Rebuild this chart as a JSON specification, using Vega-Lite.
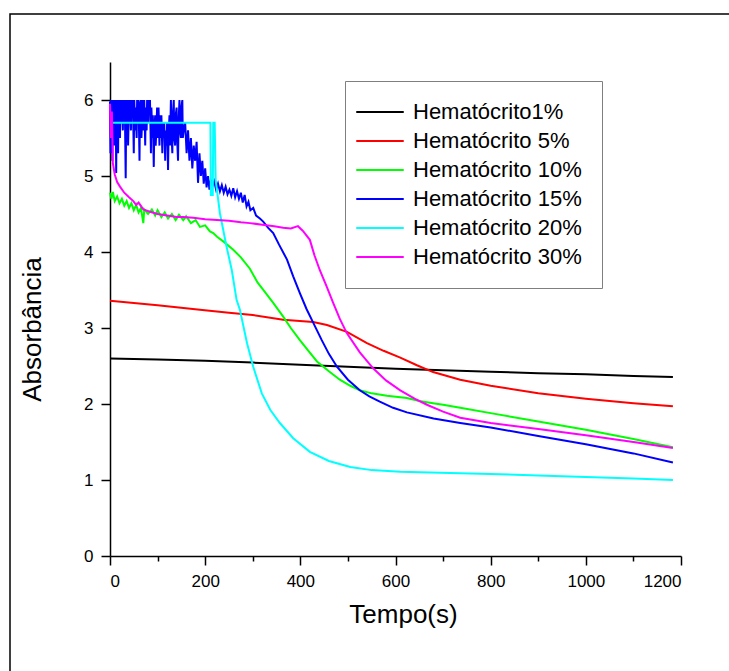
{
  "$schema": "https://vega.github.io/schema/vega-lite/v6.json",
  "autosize": "none",
  "width": 722,
  "height": 662,
  "padding": {"left": 10, "top": 14, "right": 0, "bottom": 0},
  "background": "white",
  "config": {
    "font": "Liberation Sans",
    "view": {"stroke": "black", "strokeWidth": 1.5},
    "axis": {"domainColor": "black", "tickColor": "black", "domainWidth": 1.5, "tickWidth": 1.5, "labelColor": "black", "titleColor": "black", "grid": false, "labelFont": "Liberation Sans", "titleFont": "Liberation Sans", "titleFontWeight": "normal"}
  },
  "datasets": {
    "d": [
      {"s": "Hematócrito1%", "t": 0, "a": 2.60}, {"s": "Hematócrito1%", "t": 100, "a": 2.585}, {"s": "Hematócrito1%", "t": 200, "a": 2.57}, {"s": "Hematócrito1%", "t": 300, "a": 2.545}, {"s": "Hematócrito1%", "t": 400, "a": 2.515}, {"s": "Hematócrito1%", "t": 500, "a": 2.49}, {"s": "Hematócrito1%", "t": 600, "a": 2.465}, {"s": "Hematócrito1%", "t": 700, "a": 2.445}, {"s": "Hematócrito1%", "t": 800, "a": 2.425}, {"s": "Hematócrito1%", "t": 900, "a": 2.405}, {"s": "Hematócrito1%", "t": 1000, "a": 2.39}, {"s": "Hematócrito1%", "t": 1100, "a": 2.37}, {"s": "Hematócrito1%", "t": 1183, "a": 2.355},

      {"s": "Hematócrito 5%", "t": 0, "a": 3.36}, {"s": "Hematócrito 5%", "t": 50, "a": 3.33}, {"s": "Hematócrito 5%", "t": 100, "a": 3.30}, {"s": "Hematócrito 5%", "t": 189, "a": 3.24}, {"s": "Hematócrito 5%", "t": 250, "a": 3.20}, {"s": "Hematócrito 5%", "t": 300, "a": 3.17}, {"s": "Hematócrito 5%", "t": 364, "a": 3.11}, {"s": "Hematócrito 5%", "t": 427, "a": 3.08}, {"s": "Hematócrito 5%", "t": 456, "a": 3.04}, {"s": "Hematócrito 5%", "t": 498, "a": 2.95}, {"s": "Hematócrito 5%", "t": 540, "a": 2.80}, {"s": "Hematócrito 5%", "t": 575, "a": 2.70}, {"s": "Hematócrito 5%", "t": 610, "a": 2.61}, {"s": "Hematócrito 5%", "t": 645, "a": 2.51}, {"s": "Hematócrito 5%", "t": 679, "a": 2.42}, {"s": "Hematócrito 5%", "t": 736, "a": 2.32}, {"s": "Hematócrito 5%", "t": 800, "a": 2.24}, {"s": "Hematócrito 5%", "t": 900, "a": 2.14}, {"s": "Hematócrito 5%", "t": 1000, "a": 2.07}, {"s": "Hematócrito 5%", "t": 1100, "a": 2.01}, {"s": "Hematócrito 5%", "t": 1183, "a": 1.97},

      {"s": "Hematócrito 10%", "t": 0, "a": 4.78}, {"s": "Hematócrito 10%", "t": 3, "a": 4.70}, {"s": "Hematócrito 10%", "t": 6, "a": 4.79}, {"s": "Hematócrito 10%", "t": 10, "a": 4.67}, {"s": "Hematócrito 10%", "t": 15, "a": 4.73}, {"s": "Hematócrito 10%", "t": 20, "a": 4.64}, {"s": "Hematócrito 10%", "t": 25, "a": 4.70}, {"s": "Hematócrito 10%", "t": 30, "a": 4.61}, {"s": "Hematócrito 10%", "t": 35, "a": 4.67}, {"s": "Hematócrito 10%", "t": 40, "a": 4.58}, {"s": "Hematócrito 10%", "t": 45, "a": 4.64}, {"s": "Hematócrito 10%", "t": 50, "a": 4.55}, {"s": "Hematócrito 10%", "t": 55, "a": 4.62}, {"s": "Hematócrito 10%", "t": 60, "a": 4.52}, {"s": "Hematócrito 10%", "t": 65, "a": 4.58}, {"s": "Hematócrito 10%", "t": 70, "a": 4.38}, {"s": "Hematócrito 10%", "t": 72, "a": 4.56}, {"s": "Hematócrito 10%", "t": 80, "a": 4.50}, {"s": "Hematócrito 10%", "t": 88, "a": 4.56}, {"s": "Hematócrito 10%", "t": 95, "a": 4.48}, {"s": "Hematócrito 10%", "t": 100, "a": 4.55}, {"s": "Hematócrito 10%", "t": 108, "a": 4.46}, {"s": "Hematócrito 10%", "t": 115, "a": 4.52}, {"s": "Hematócrito 10%", "t": 122, "a": 4.44}, {"s": "Hematócrito 10%", "t": 130, "a": 4.50}, {"s": "Hematócrito 10%", "t": 138, "a": 4.42}, {"s": "Hematócrito 10%", "t": 145, "a": 4.49}, {"s": "Hematócrito 10%", "t": 154, "a": 4.42}, {"s": "Hematócrito 10%", "t": 160, "a": 4.47}, {"s": "Hematócrito 10%", "t": 170, "a": 4.38}, {"s": "Hematócrito 10%", "t": 180, "a": 4.42}, {"s": "Hematócrito 10%", "t": 189, "a": 4.33}, {"s": "Hematócrito 10%", "t": 200, "a": 4.35}, {"s": "Hematócrito 10%", "t": 210, "a": 4.27}, {"s": "Hematócrito 10%", "t": 217, "a": 4.25}, {"s": "Hematócrito 10%", "t": 225, "a": 4.20}, {"s": "Hematócrito 10%", "t": 240, "a": 4.13}, {"s": "Hematócrito 10%", "t": 259, "a": 4.03}, {"s": "Hematócrito 10%", "t": 275, "a": 3.93}, {"s": "Hematócrito 10%", "t": 294, "a": 3.78}, {"s": "Hematócrito 10%", "t": 310, "a": 3.60}, {"s": "Hematócrito 10%", "t": 325, "a": 3.48}, {"s": "Hematócrito 10%", "t": 343, "a": 3.33}, {"s": "Hematócrito 10%", "t": 364, "a": 3.15}, {"s": "Hematócrito 10%", "t": 380, "a": 3.00}, {"s": "Hematócrito 10%", "t": 399, "a": 2.84}, {"s": "Hematócrito 10%", "t": 417, "a": 2.70}, {"s": "Hematócrito 10%", "t": 435, "a": 2.56}, {"s": "Hematócrito 10%", "t": 460, "a": 2.43}, {"s": "Hematócrito 10%", "t": 483, "a": 2.32}, {"s": "Hematócrito 10%", "t": 505, "a": 2.24}, {"s": "Hematócrito 10%", "t": 525, "a": 2.18}, {"s": "Hematócrito 10%", "t": 550, "a": 2.14}, {"s": "Hematócrito 10%", "t": 582, "a": 2.11}, {"s": "Hematócrito 10%", "t": 624, "a": 2.08}, {"s": "Hematócrito 10%", "t": 650, "a": 2.04}, {"s": "Hematócrito 10%", "t": 679, "a": 2.01}, {"s": "Hematócrito 10%", "t": 700, "a": 1.99}, {"s": "Hematócrito 10%", "t": 736, "a": 1.95}, {"s": "Hematócrito 10%", "t": 800, "a": 1.88}, {"s": "Hematócrito 10%", "t": 900, "a": 1.77}, {"s": "Hematócrito 10%", "t": 1000, "a": 1.66}, {"s": "Hematócrito 10%", "t": 1100, "a": 1.54}, {"s": "Hematócrito 10%", "t": 1183, "a": 1.43},

      {"s": "Hematócrito 15%", "t": 0, "a": 5.98}, {"s": "Hematócrito 15%", "t": 1, "a": 5.3}, {"s": "Hematócrito 15%", "t": 2, "a": 6.0}, {"s": "Hematócrito 15%", "t": 3, "a": 5.5}, {"s": "Hematócrito 15%", "t": 4, "a": 6.0}, {"s": "Hematócrito 15%", "t": 5, "a": 5.2}, {"s": "Hematócrito 15%", "t": 6, "a": 6.0}, {"s": "Hematócrito 15%", "t": 7, "a": 5.7}, {"s": "Hematócrito 15%", "t": 8, "a": 6.0}, {"s": "Hematócrito 15%", "t": 9, "a": 5.4}, {"s": "Hematócrito 15%", "t": 10, "a": 6.0}, {"s": "Hematócrito 15%", "t": 11, "a": 5.6}, {"s": "Hematócrito 15%", "t": 12, "a": 6.0}, {"s": "Hematócrito 15%", "t": 13, "a": 5.04}, {"s": "Hematócrito 15%", "t": 14, "a": 5.9}, {"s": "Hematócrito 15%", "t": 15, "a": 5.5}, {"s": "Hematócrito 15%", "t": 16, "a": 6.0}, {"s": "Hematócrito 15%", "t": 17, "a": 5.3}, {"s": "Hematócrito 15%", "t": 18, "a": 6.0}, {"s": "Hematócrito 15%", "t": 19, "a": 5.6}, {"s": "Hematócrito 15%", "t": 20, "a": 6.0}, {"s": "Hematócrito 15%", "t": 21, "a": 5.5}, {"s": "Hematócrito 15%", "t": 22, "a": 6.0}, {"s": "Hematócrito 15%", "t": 24, "a": 5.7}, {"s": "Hematócrito 15%", "t": 25, "a": 6.0}, {"s": "Hematócrito 15%", "t": 27, "a": 5.6}, {"s": "Hematócrito 15%", "t": 28, "a": 6.0}, {"s": "Hematócrito 15%", "t": 30, "a": 5.8}, {"s": "Hematócrito 15%", "t": 31, "a": 6.0}, {"s": "Hematócrito 15%", "t": 33, "a": 4.97}, {"s": "Hematócrito 15%", "t": 34, "a": 5.8}, {"s": "Hematócrito 15%", "t": 35, "a": 6.0}, {"s": "Hematócrito 15%", "t": 36, "a": 5.5}, {"s": "Hematócrito 15%", "t": 37, "a": 6.0}, {"s": "Hematócrito 15%", "t": 38, "a": 5.4}, {"s": "Hematócrito 15%", "t": 40, "a": 6.0}, {"s": "Hematócrito 15%", "t": 41, "a": 5.7}, {"s": "Hematócrito 15%", "t": 42, "a": 6.0}, {"s": "Hematócrito 15%", "t": 44, "a": 5.6}, {"s": "Hematócrito 15%", "t": 45, "a": 6.0}, {"s": "Hematócrito 15%", "t": 47, "a": 5.8}, {"s": "Hematócrito 15%", "t": 48, "a": 6.0}, {"s": "Hematócrito 15%", "t": 50, "a": 5.3}, {"s": "Hematócrito 15%", "t": 51, "a": 6.0}, {"s": "Hematócrito 15%", "t": 53, "a": 5.6}, {"s": "Hematócrito 15%", "t": 54, "a": 5.9}, {"s": "Hematócrito 15%", "t": 56, "a": 5.5}, {"s": "Hematócrito 15%", "t": 57, "a": 6.0}, {"s": "Hematócrito 15%", "t": 59, "a": 5.7}, {"s": "Hematócrito 15%", "t": 60, "a": 6.0}, {"s": "Hematócrito 15%", "t": 62, "a": 5.2}, {"s": "Hematócrito 15%", "t": 63, "a": 5.9}, {"s": "Hematócrito 15%", "t": 65, "a": 6.0}, {"s": "Hematócrito 15%", "t": 66, "a": 5.5}, {"s": "Hematócrito 15%", "t": 68, "a": 5.8}, {"s": "Hematócrito 15%", "t": 69, "a": 6.0}, {"s": "Hematócrito 15%", "t": 71, "a": 5.6}, {"s": "Hematócrito 15%", "t": 72, "a": 6.0}, {"s": "Hematócrito 15%", "t": 74, "a": 5.4}, {"s": "Hematócrito 15%", "t": 75, "a": 5.9}, {"s": "Hematócrito 15%", "t": 77, "a": 5.6}, {"s": "Hematócrito 15%", "t": 78, "a": 6.0}, {"s": "Hematócrito 15%", "t": 80, "a": 5.7}, {"s": "Hematócrito 15%", "t": 81, "a": 6.0}, {"s": "Hematócrito 15%", "t": 83, "a": 5.8}, {"s": "Hematócrito 15%", "t": 84, "a": 6.0}, {"s": "Hematócrito 15%", "t": 86, "a": 5.3}, {"s": "Hematócrito 15%", "t": 87, "a": 5.9}, {"s": "Hematócrito 15%", "t": 89, "a": 5.5}, {"s": "Hematócrito 15%", "t": 90, "a": 5.8}, {"s": "Hematócrito 15%", "t": 92, "a": 5.12}, {"s": "Hematócrito 15%", "t": 93, "a": 5.6}, {"s": "Hematócrito 15%", "t": 95, "a": 5.8}, {"s": "Hematócrito 15%", "t": 96, "a": 5.4}, {"s": "Hematócrito 15%", "t": 98, "a": 5.7}, {"s": "Hematócrito 15%", "t": 99, "a": 5.9}, {"s": "Hematócrito 15%", "t": 101, "a": 5.5}, {"s": "Hematócrito 15%", "t": 102, "a": 5.9}, {"s": "Hematócrito 15%", "t": 104, "a": 5.4}, {"s": "Hematócrito 15%", "t": 105, "a": 5.8}, {"s": "Hematócrito 15%", "t": 107, "a": 5.5}, {"s": "Hematócrito 15%", "t": 108, "a": 5.8}, {"s": "Hematócrito 15%", "t": 110, "a": 5.3}, {"s": "Hematócrito 15%", "t": 111, "a": 5.7}, {"s": "Hematócrito 15%", "t": 113, "a": 5.5}, {"s": "Hematócrito 15%", "t": 114, "a": 5.7}, {"s": "Hematócrito 15%", "t": 116, "a": 5.2}, {"s": "Hematócrito 15%", "t": 117, "a": 5.6}, {"s": "Hematócrito 15%", "t": 119, "a": 5.4}, {"s": "Hematócrito 15%", "t": 120, "a": 5.7}, {"s": "Hematócrito 15%", "t": 122, "a": 5.08}, {"s": "Hematócrito 15%", "t": 123, "a": 5.5}, {"s": "Hematócrito 15%", "t": 125, "a": 5.8}, {"s": "Hematócrito 15%", "t": 126, "a": 5.4}, {"s": "Hematócrito 15%", "t": 128, "a": 6.0}, {"s": "Hematócrito 15%", "t": 129, "a": 5.6}, {"s": "Hematócrito 15%", "t": 131, "a": 5.3}, {"s": "Hematócrito 15%", "t": 132, "a": 5.8}, {"s": "Hematócrito 15%", "t": 134, "a": 6.0}, {"s": "Hematócrito 15%", "t": 135, "a": 5.5}, {"s": "Hematócrito 15%", "t": 137, "a": 5.4}, {"s": "Hematócrito 15%", "t": 138, "a": 5.8}, {"s": "Hematócrito 15%", "t": 140, "a": 5.9}, {"s": "Hematócrito 15%", "t": 141, "a": 5.5}, {"s": "Hematócrito 15%", "t": 143, "a": 5.2}, {"s": "Hematócrito 15%", "t": 144, "a": 5.7}, {"s": "Hematócrito 15%", "t": 146, "a": 6.0}, {"s": "Hematócrito 15%", "t": 147, "a": 5.6}, {"s": "Hematócrito 15%", "t": 149, "a": 5.5}, {"s": "Hematócrito 15%", "t": 150, "a": 5.9}, {"s": "Hematócrito 15%", "t": 152, "a": 6.0}, {"s": "Hematócrito 15%", "t": 153, "a": 5.5}, {"s": "Hematócrito 15%", "t": 155, "a": 5.6}, {"s": "Hematócrito 15%", "t": 158, "a": 5.7}, {"s": "Hematócrito 15%", "t": 161, "a": 5.3}, {"s": "Hematócrito 15%", "t": 164, "a": 5.6}, {"s": "Hematócrito 15%", "t": 167, "a": 5.2}, {"s": "Hematócrito 15%", "t": 170, "a": 5.5}, {"s": "Hematócrito 15%", "t": 173, "a": 5.1}, {"s": "Hematócrito 15%", "t": 176, "a": 5.4}, {"s": "Hematócrito 15%", "t": 179, "a": 5.2}, {"s": "Hematócrito 15%", "t": 182, "a": 5.45}, {"s": "Hematócrito 15%", "t": 185, "a": 4.91}, {"s": "Hematócrito 15%", "t": 188, "a": 5.3}, {"s": "Hematócrito 15%", "t": 191, "a": 5.0}, {"s": "Hematócrito 15%", "t": 194, "a": 5.2}, {"s": "Hematócrito 15%", "t": 197, "a": 4.9}, {"s": "Hematócrito 15%", "t": 200, "a": 5.1}, {"s": "Hematócrito 15%", "t": 203, "a": 4.85}, {"s": "Hematócrito 15%", "t": 206, "a": 5.0}, {"s": "Hematócrito 15%", "t": 209, "a": 4.82}, {"s": "Hematócrito 15%", "t": 212, "a": 4.95}, {"s": "Hematócrito 15%", "t": 215, "a": 4.86}, {"s": "Hematócrito 15%", "t": 219, "a": 4.93}, {"s": "Hematócrito 15%", "t": 223, "a": 4.82}, {"s": "Hematócrito 15%", "t": 227, "a": 4.9}, {"s": "Hematócrito 15%", "t": 231, "a": 4.8}, {"s": "Hematócrito 15%", "t": 235, "a": 4.88}, {"s": "Hematócrito 15%", "t": 239, "a": 4.78}, {"s": "Hematócrito 15%", "t": 243, "a": 4.86}, {"s": "Hematócrito 15%", "t": 247, "a": 4.76}, {"s": "Hematócrito 15%", "t": 251, "a": 4.82}, {"s": "Hematócrito 15%", "t": 255, "a": 4.74}, {"s": "Hematócrito 15%", "t": 259, "a": 4.84}, {"s": "Hematócrito 15%", "t": 263, "a": 4.72}, {"s": "Hematócrito 15%", "t": 267, "a": 4.80}, {"s": "Hematócrito 15%", "t": 271, "a": 4.70}, {"s": "Hematócrito 15%", "t": 275, "a": 4.78}, {"s": "Hematócrito 15%", "t": 279, "a": 4.65}, {"s": "Hematócrito 15%", "t": 283, "a": 4.75}, {"s": "Hematócrito 15%", "t": 287, "a": 4.60}, {"s": "Hematócrito 15%", "t": 291, "a": 4.66}, {"s": "Hematócrito 15%", "t": 295, "a": 4.55}, {"s": "Hematócrito 15%", "t": 301, "a": 4.58}, {"s": "Hematócrito 15%", "t": 307, "a": 4.48}, {"s": "Hematócrito 15%", "t": 315, "a": 4.44}, {"s": "Hematócrito 15%", "t": 322, "a": 4.40}, {"s": "Hematócrito 15%", "t": 332, "a": 4.32}, {"s": "Hematócrito 15%", "t": 343, "a": 4.25}, {"s": "Hematócrito 15%", "t": 355, "a": 4.10}, {"s": "Hematócrito 15%", "t": 372, "a": 3.90}, {"s": "Hematócrito 15%", "t": 385, "a": 3.68}, {"s": "Hematócrito 15%", "t": 399, "a": 3.46}, {"s": "Hematócrito 15%", "t": 413, "a": 3.25}, {"s": "Hematócrito 15%", "t": 427, "a": 3.07}, {"s": "Hematócrito 15%", "t": 445, "a": 2.84}, {"s": "Hematócrito 15%", "t": 460, "a": 2.66}, {"s": "Hematócrito 15%", "t": 477, "a": 2.49}, {"s": "Hematócrito 15%", "t": 500, "a": 2.32}, {"s": "Hematócrito 15%", "t": 525, "a": 2.18}, {"s": "Hematócrito 15%", "t": 545, "a": 2.10}, {"s": "Hematócrito 15%", "t": 567, "a": 2.03}, {"s": "Hematócrito 15%", "t": 595, "a": 1.95}, {"s": "Hematócrito 15%", "t": 624, "a": 1.89}, {"s": "Hematócrito 15%", "t": 680, "a": 1.81}, {"s": "Hematócrito 15%", "t": 736, "a": 1.75}, {"s": "Hematócrito 15%", "t": 800, "a": 1.69}, {"s": "Hematócrito 15%", "t": 900, "a": 1.58}, {"s": "Hematócrito 15%", "t": 1000, "a": 1.47}, {"s": "Hematócrito 15%", "t": 1100, "a": 1.35}, {"s": "Hematócrito 15%", "t": 1183, "a": 1.23},

      {"s": "Hematócrito 20%", "t": 0, "a": 5.70}, {"s": "Hematócrito 20%", "t": 211, "a": 5.70}, {"s": "Hematócrito 20%", "t": 212, "a": 4.75}, {"s": "Hematócrito 20%", "t": 216, "a": 4.75}, {"s": "Hematócrito 20%", "t": 217, "a": 5.70}, {"s": "Hematócrito 20%", "t": 220, "a": 5.70}, {"s": "Hematócrito 20%", "t": 222, "a": 4.95}, {"s": "Hematócrito 20%", "t": 231, "a": 4.51}, {"s": "Hematócrito 20%", "t": 245, "a": 4.07}, {"s": "Hematócrito 20%", "t": 256, "a": 3.76}, {"s": "Hematócrito 20%", "t": 266, "a": 3.37}, {"s": "Hematócrito 20%", "t": 273, "a": 3.24}, {"s": "Hematócrito 20%", "t": 288, "a": 2.80}, {"s": "Hematócrito 20%", "t": 301, "a": 2.49}, {"s": "Hematócrito 20%", "t": 319, "a": 2.14}, {"s": "Hematócrito 20%", "t": 337, "a": 1.92}, {"s": "Hematócrito 20%", "t": 357, "a": 1.75}, {"s": "Hematócrito 20%", "t": 385, "a": 1.55}, {"s": "Hematócrito 20%", "t": 420, "a": 1.37}, {"s": "Hematócrito 20%", "t": 460, "a": 1.25}, {"s": "Hematócrito 20%", "t": 505, "a": 1.17}, {"s": "Hematócrito 20%", "t": 550, "a": 1.13}, {"s": "Hematócrito 20%", "t": 610, "a": 1.11}, {"s": "Hematócrito 20%", "t": 736, "a": 1.09}, {"s": "Hematócrito 20%", "t": 800, "a": 1.08}, {"s": "Hematócrito 20%", "t": 900, "a": 1.06}, {"s": "Hematócrito 20%", "t": 1000, "a": 1.04}, {"s": "Hematócrito 20%", "t": 1100, "a": 1.02}, {"s": "Hematócrito 20%", "t": 1183, "a": 1.00},

      {"s": "Hematócrito 30%", "t": 0, "a": 5.95}, {"s": "Hematócrito 30%", "t": 2, "a": 5.5}, {"s": "Hematócrito 30%", "t": 4, "a": 5.85}, {"s": "Hematócrito 30%", "t": 6, "a": 5.17}, {"s": "Hematócrito 30%", "t": 10, "a": 5.02}, {"s": "Hematócrito 30%", "t": 15, "a": 4.92}, {"s": "Hematócrito 30%", "t": 21, "a": 4.86}, {"s": "Hematócrito 30%", "t": 30, "a": 4.78}, {"s": "Hematócrito 30%", "t": 40, "a": 4.72}, {"s": "Hematócrito 30%", "t": 49, "a": 4.67}, {"s": "Hematócrito 30%", "t": 55, "a": 4.62}, {"s": "Hematócrito 30%", "t": 60, "a": 4.65}, {"s": "Hematócrito 30%", "t": 70, "a": 4.56}, {"s": "Hematócrito 30%", "t": 84, "a": 4.53}, {"s": "Hematócrito 30%", "t": 100, "a": 4.50}, {"s": "Hematócrito 30%", "t": 120, "a": 4.48}, {"s": "Hematócrito 30%", "t": 140, "a": 4.46}, {"s": "Hematócrito 30%", "t": 154, "a": 4.46}, {"s": "Hematócrito 30%", "t": 175, "a": 4.45}, {"s": "Hematócrito 30%", "t": 200, "a": 4.43}, {"s": "Hematócrito 30%", "t": 225, "a": 4.42}, {"s": "Hematócrito 30%", "t": 250, "a": 4.41}, {"s": "Hematócrito 30%", "t": 275, "a": 4.39}, {"s": "Hematócrito 30%", "t": 294, "a": 4.38}, {"s": "Hematócrito 30%", "t": 320, "a": 4.36}, {"s": "Hematócrito 30%", "t": 345, "a": 4.34}, {"s": "Hematócrito 30%", "t": 364, "a": 4.32}, {"s": "Hematócrito 30%", "t": 380, "a": 4.31}, {"s": "Hematócrito 30%", "t": 395, "a": 4.34}, {"s": "Hematócrito 30%", "t": 405, "a": 4.28}, {"s": "Hematócrito 30%", "t": 420, "a": 4.16}, {"s": "Hematócrito 30%", "t": 430, "a": 3.95}, {"s": "Hematócrito 30%", "t": 441, "a": 3.76}, {"s": "Hematócrito 30%", "t": 455, "a": 3.55}, {"s": "Hematócrito 30%", "t": 469, "a": 3.33}, {"s": "Hematócrito 30%", "t": 483, "a": 3.12}, {"s": "Hematócrito 30%", "t": 498, "a": 2.93}, {"s": "Hematócrito 30%", "t": 525, "a": 2.68}, {"s": "Hematócrito 30%", "t": 553, "a": 2.47}, {"s": "Hematócrito 30%", "t": 580, "a": 2.31}, {"s": "Hematócrito 30%", "t": 610, "a": 2.18}, {"s": "Hematócrito 30%", "t": 640, "a": 2.07}, {"s": "Hematócrito 30%", "t": 666, "a": 1.99}, {"s": "Hematócrito 30%", "t": 700, "a": 1.90}, {"s": "Hematócrito 30%", "t": 736, "a": 1.82}, {"s": "Hematócrito 30%", "t": 800, "a": 1.75}, {"s": "Hematócrito 30%", "t": 900, "a": 1.67}, {"s": "Hematócrito 30%", "t": 1000, "a": 1.59}, {"s": "Hematócrito 30%", "t": 1100, "a": 1.50}, {"s": "Hematócrito 30%", "t": 1183, "a": 1.42}
    ]
  },
  "data": {"name": "d"},
  "mark": {"type": "line", "strokeWidth": 2, "interpolate": "linear"},
  "encoding": {
    "x": {
      "field": "t", "type": "quantitative",
      "scale": {"domain": [0, 1200], "range": [100, 671], "nice": false, "zero": false},
      "axis": {
        "title": "Tempo(s)", "titleFontSize": 26, "titleX": 393, "titleY": 66, "titleBaseline": "alphabetic",
        "offset": -120,
        "values": [0, 100, 200, 300, 400, 500, 600, 700, 800, 900, 1000, 1100, 1200],
        "format": "d",
        "labelExpr": "datum.value % 200 === 0 ? datum.label : ''",
        "labelOverlap": false,
        "labelFontSize": 17, "labelPadding": 8,
        "tickSize": {"condition": {"test": "datum.value % 200 === 0", "value": 9}, "value": 5}
      }
    },
    "y": {
      "field": "a", "type": "quantitative",
      "scale": {"domain": [0, 6.5], "range": [542, 48], "nice": false, "zero": false},
      "axis": {
        "title": "Absorbância", "titleFontSize": 26, "titleX": -70, "titleY": 315, "titleBaseline": "alphabetic", "titleAngle": 270,
        "offset": -100,
        "values": [0, 0.5, 1, 1.5, 2, 2.5, 3, 3.5, 4, 4.5, 5, 5.5, 6],
        "format": "d",
        "labelExpr": "datum.value % 1 === 0 ? datum.label : ''",
        "labelOverlap": false,
        "labelFontSize": 17, "labelPadding": 8,
        "tickSize": {"condition": {"test": "datum.value % 1 === 0", "value": 9}, "value": 5}
      }
    },
    "color": {
      "field": "s", "type": "nominal",
      "scale": {
        "domain": ["Hematócrito1%", "Hematócrito 5%", "Hematócrito 10%", "Hematócrito 15%", "Hematócrito 20%", "Hematócrito 30%"],
        "range": ["#000000", "#ff0000", "#00ff00", "#0000ff", "#00ffff", "#ff00ff"]
      },
      "legend": {
        "title": null, "orient": "none", "legendX": 335, "legendY": 67,
        "strokeColor": "#7f7f7f", "fillColor": "white", "padding": 20,
        "labelFontSize": 22, "labelFont": "Liberation Sans", "labelColor": "black", "labelLimit": 400,
        "symbolType": "M-2.5,0H2.5", "symbolSize": 361, "symbolStrokeWidth": 2,
        "symbolOffset": 4, "labelOffset": 22, "rowPadding": 7
      }
    }
  }
}
